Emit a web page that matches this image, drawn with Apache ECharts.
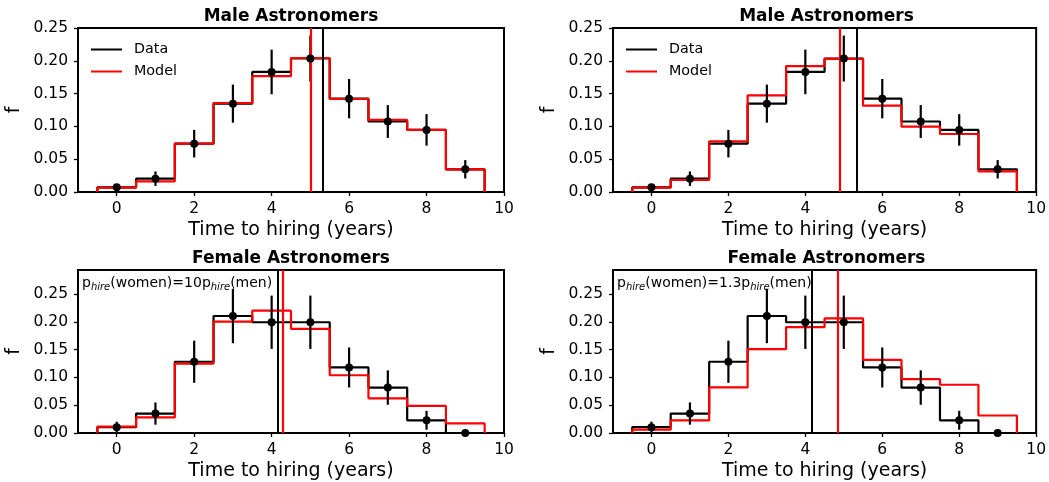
<!DOCTYPE html>
<html><head><meta charset="utf-8">
<script src="https://cdn.jsdelivr.net/npm/echarts@6/dist/echarts.min.js"></script>
<style>html,body{margin:0;padding:0;background:#fff}#c{width:1049px;height:482px}</style>
</head><body><div id="c"></div>
<script>
// ---- data ----
const years = [0, 1, 2, 3, 4, 5, 6, 7, 8, 9];
const xTicks = [0, 2, 4, 6, 8, 10];
const yTicks = [0, 0.05, 0.10, 0.15, 0.20, 0.25];

const maleData   = [0.0071, 0.0203, 0.0737, 0.1347, 0.1830, 0.2035, 0.1423, 0.1075, 0.0947, 0.0346];
const maleErr    = [0.005, 0.011, 0.021, 0.029, 0.034, 0.035, 0.030, 0.025, 0.024, 0.014];
const maleModelA = [0.0066, 0.0163, 0.0737, 0.1357, 0.1765, 0.2043, 0.1418, 0.1098, 0.0947, 0.0346];
const maleModelB = [0.0066, 0.0183, 0.0772, 0.1474, 0.1920, 0.2030, 0.1316, 0.0996, 0.0884, 0.0315];

const femaleData   = [0.0104, 0.0350, 0.1283, 0.2107, 0.1994, 0.1994, 0.1180, 0.0818, 0.0229, 0.0];
const femaleErr    = [0.010, 0.020, 0.038, 0.049, 0.048, 0.048, 0.036, 0.031, 0.017, 0.0];
const femaleModelA = [0.0113, 0.0280, 0.1250, 0.2006, 0.2202, 0.1875, 0.1040, 0.0625, 0.0488, 0.0173];
const femaleModelB = [0.0060, 0.0226, 0.0820, 0.1510, 0.1905, 0.2065, 0.1315, 0.0970, 0.0869, 0.0315];

const maleMeanData = 5.33, maleMeanModelA = 5.02, maleMeanModelB = 4.90;
const femaleMeanData = 4.16, femaleMeanModelA = 4.28, femaleMeanModelB = 4.84;

const titles = ['Male Astronomers', 'Male Astronomers', 'Female Astronomers', 'Female Astronomers'];
const notes = ['', '', '{n|p}{s|hire}{n|(women)=10p}{s|hire}{n|(men)}', '{n|p}{s|hire}{n|(women)=1.3p}{s|hire}{n|(men)}'];
const legendNames = ['Data', 'Model'];
const xName = 'Time to hiring (years)';
const yName = 'f';
const maleYMax = 0.25, femaleYMax = 0.2935;

// ---- layout ----
const FONT = 'DejaVu Sans';
const panels = [
  {left: 78,  top: 28,  w: 426, h: 164, data: maleData, err: maleErr, model: maleModelA, md: maleMeanData, mm: maleMeanModelA, ymax: maleYMax},
  {left: 613, top: 28,  w: 427, h: 164, data: maleData, err: maleErr, model: maleModelB, md: maleMeanData, mm: maleMeanModelB, ymax: maleYMax},
  {left: 78,  top: 270, w: 426, h: 164, data: femaleData, err: femaleErr, model: femaleModelA, md: femaleMeanData, mm: femaleMeanModelA, ymax: femaleYMax},
  {left: 613, top: 270, w: 427, h: 164, data: femaleData, err: femaleErr, model: femaleModelB, md: femaleMeanData, mm: femaleMeanModelB, ymax: femaleYMax}
];

function steps(h) {
  const pts = [[years[0] - 0.5, 0]];
  h.forEach((v, i) => { pts.push([years[i] - 0.5, v]); pts.push([years[i] + 0.5, v]); });
  pts.push([years[years.length - 1] + 0.5, 0]);
  return pts;
}

const grid = [], xAxis = [], yAxis = [], series = [], title = [], graphic = [];
panels.forEach((p, i) => {
  grid.push({left: p.left, top: p.top, width: p.w, height: p.h, show: true, borderColor: '#000', borderWidth: 2, backgroundColor: 'transparent'});
  xAxis.push({
    type: 'value', gridIndex: i, min: -1, max: 10,
    name: xName, nameLocation: 'middle', nameGap: 29,
    nameTextStyle: {fontFamily: FONT, fontSize: 19, color: '#000'},
    axisLine: {show: true, onZero: false, lineStyle: {color: '#000', width: 2}},
    axisTick: {show: true, length: 4, lineStyle: {color: '#000', width: 1.3}, customValues: xTicks},
    axisLabel: {fontFamily: FONT, fontSize: 15.5, color: '#000', margin: 9, customValues: xTicks},
    splitLine: {show: false}
  });
  yAxis.push({
    type: 'value', gridIndex: i, min: 0, max: p.ymax,
    name: yName, nameLocation: 'middle', nameGap: 54, nameRotate: 90,
    nameTextStyle: {fontFamily: FONT, fontSize: 19, color: '#000'},
    axisLine: {show: true, onZero: false, lineStyle: {color: '#000', width: 2}},
    axisTick: {show: true, length: 4, lineStyle: {color: '#000', width: 1.3}, customValues: yTicks},
    axisLabel: {fontFamily: FONT, fontSize: 15.5, color: '#000', margin: 10, customValues: yTicks, formatter: v => v.toFixed(2)},
    splitLine: {show: false}
  });
  title.push({
    text: titles[i], left: p.left + p.w / 2, top: p.top - 20, textAlign: 'center', padding: 0,
    textStyle: {fontFamily: FONT, fontSize: 17, fontWeight: 'bold', color: '#000'}
  });
  if (notes[i]) {
    graphic.push({
      type: 'text', left: p.left + 4, top: p.top + 6, z: 100,
      style: {
        text: notes[i], fill: '#000',
        rich: {
          n: {fontFamily: FONT, fontSize: 14, fill: '#000', lineHeight: 18, verticalAlign: 'bottom'},
          s: {fontFamily: FONT, fontSize: 10, fontStyle: 'italic', fill: '#000', lineHeight: 14, verticalAlign: 'bottom', padding: [0, 0, -2, 0]}
        }
      }
    });
  }
  series.push({
    name: legendNames[0], type: 'line', xAxisIndex: i, yAxisIndex: i, data: steps(p.data),
    symbol: 'none', lineStyle: {color: '#000', width: 2.2}, itemStyle: {color: '#000'}, z: 2,
    markLine: {silent: true, symbol: 'none', label: {show: false}, animation: false,
      lineStyle: {color: '#000', width: 2, type: 'solid'}, data: [{xAxis: p.md}]}
  });
  series.push({
    name: legendNames[1], type: 'line', xAxisIndex: i, yAxisIndex: i, data: steps(p.model),
    symbol: 'none', lineStyle: {color: '#ff0000', width: 2.2}, itemStyle: {color: '#ff0000'}, z: 3,
    markLine: {silent: true, symbol: 'none', label: {show: false}, animation: false,
      lineStyle: {color: '#ff0000', width: 2.2, type: 'solid'}, data: [{xAxis: p.mm}]}
  });
  series.push({
    name: 'err' + i, type: 'custom', xAxisIndex: i, yAxisIndex: i, clip: true, z: 4,
    data: years.map((x, k) => [x, p.data[k], p.err[k]]),
    renderItem: function (params, api) {
      const x = api.value(0), y = api.value(1), e = api.value(2);
      const a = api.coord([x, y - e]), b = api.coord([x, y + e]);
      return {type: 'line', shape: {x1: a[0], y1: a[1], x2: b[0], y2: b[1]}, style: {stroke: '#000', lineWidth: 2.2}};
    }
  });
  series.push({
    name: 'pts' + i, type: 'scatter', xAxisIndex: i, yAxisIndex: i, z: 5,
    data: years.map((x, k) => [x, p.data[k]]),
    symbol: 'circle', symbolSize: 8, itemStyle: {color: '#000', opacity: 1}
  });
});

const legend = [panels[0], panels[1]].map(p => ({
  data: legendNames.map(n => ({name: n, icon: 'rect'})), orient: 'vertical', left: p.left + 8, top: p.top + 8,
  itemWidth: 31, itemHeight: 2, itemGap: 5, selectedMode: false,
  textStyle: {fontFamily: FONT, fontSize: 14.3, color: '#000', padding: [0, 0, 0, 7], lineHeight: 17}
}));

const chart = echarts.init(document.getElementById('c'), null, {renderer: 'canvas'});
chart.setOption({
  animation: false, backgroundColor: '#fff',
  title, grid, xAxis, yAxis, legend, series, graphic
});
</script></body></html>
